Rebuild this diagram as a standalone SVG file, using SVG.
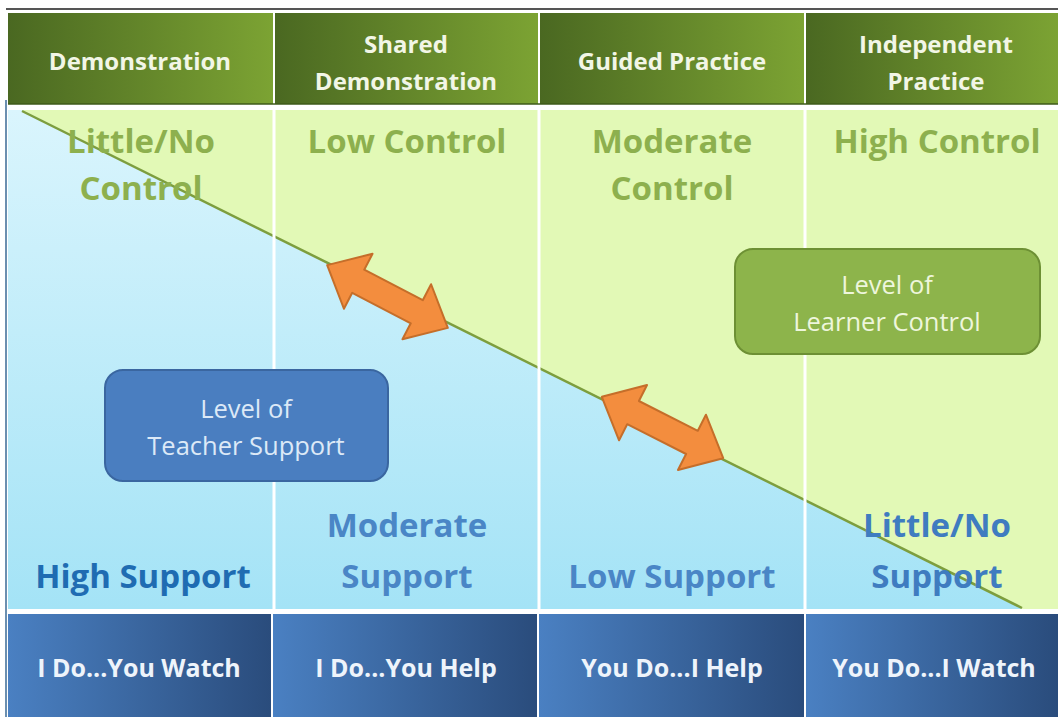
<svg xmlns="http://www.w3.org/2000/svg" width="1058" height="717" viewBox="0 0 1058 717">
<defs>
<linearGradient id="gHead" x1="0" y1="0" x2="1" y2="0">
<stop offset="0" stop-color="#4a6821"/><stop offset="1" stop-color="#7ca333"/>
</linearGradient>
<linearGradient id="gFoot" x1="0" y1="0" x2="1" y2="0">
<stop offset="0" stop-color="#4a80c2"/><stop offset="1" stop-color="#2a4c7c"/>
</linearGradient>
<linearGradient id="gBlue" x1="0" y1="0" x2="0" y2="1">
<stop offset="0" stop-color="#daf5fd"/><stop offset="1" stop-color="#a4e3f6"/>
</linearGradient>
<style>
.hd{font-family:"Open Sans","Liberation Sans",sans-serif;font-weight:bold;font-size:24px;fill:#f2f6e6;text-anchor:middle}
.ft{font-family:"Open Sans","Liberation Sans",sans-serif;font-weight:bold;font-size:25px;fill:#eef4fb;text-anchor:middle}
.gc{font-family:"Open Sans","Liberation Sans",sans-serif;font-weight:bold;font-size:33px;fill:#8db04e;text-anchor:middle}
.bs{font-family:"Open Sans","Liberation Sans",sans-serif;font-weight:bold;font-size:33px;fill:#4a86c6;text-anchor:middle}
.bx{font-family:"Open Sans","Liberation Sans",sans-serif;font-size:25.5px;text-anchor:middle}
.arr{fill:#f38d3e;stroke:#c56e2a;stroke-width:2;stroke-linejoin:round}
</style>
</defs>
<rect width="1058" height="717" fill="#ffffff"/>
<!-- top border line -->
<line x1="6" y1="9" x2="1058" y2="9" stroke="#555" stroke-width="2"/>
<!-- body -->
<g id="body">
<rect x="8" y="110" width="1050" height="499" fill="#e2f9b6"/>
<polygon points="8,110 22,110 1022,609 8,609" fill="url(#gBlue)"/>
<line x1="22" y1="111" x2="1022" y2="608" stroke="#7d9e3e" stroke-width="2.5"/>
<g stroke="#ffffff" stroke-width="3">
<line x1="274" y1="105" x2="274" y2="612"/>
<line x1="539" y1="105" x2="539" y2="612"/>
<line x1="805" y1="105" x2="805" y2="612"/>
</g>
<line x1="8" y1="107" x2="1058" y2="107" stroke="#ffffff" stroke-width="4"/>
<line x1="8" y1="611" x2="1058" y2="611" stroke="#ffffff" stroke-width="4"/>
<line x1="6" y1="100" x2="6" y2="717" stroke="#6b8fb0" stroke-width="2"/>
</g>
<!-- header -->
<g id="header-1"><rect x="8" y="13" width="265" height="91" fill="url(#gHead)"/><text class="hd" x="140" y="70">Demonstration</text></g>
<g id="header-2"><rect x="275" y="13" width="263" height="91" fill="url(#gHead)"/><text class="hd" x="406" y="53">Shared</text><text class="hd" x="406" y="90">Demonstration</text></g>
<g id="header-3"><rect x="540" y="13" width="264" height="91" fill="url(#gHead)"/><text class="hd" x="672" y="70">Guided Practice</text></g>
<g id="header-4"><rect x="806" y="13" width="252" height="91" fill="url(#gHead)"/><text class="hd" x="936" y="53">Independent</text><text class="hd" x="936" y="90">Practice</text></g>
<line x1="8" y1="104" x2="1058" y2="104" stroke="#3e5a1a" stroke-width="1.5"/>
<!-- control labels -->
<g id="control-labels">
<text class="gc" x="141" y="153">Little/No</text><text class="gc" x="141" y="200">Control</text>
<text class="gc" x="407" y="153">Low Control</text>
<text class="gc" x="672" y="153">Moderate</text><text class="gc" x="672" y="200">Control</text>
<text class="gc" x="937" y="153">High Control</text>
</g>
<!-- support labels -->
<g id="support-labels">
<text class="bs" x="143" y="588" style="fill:#1f6cb2">High Support</text>
<text class="bs" x="407" y="537">Moderate</text><text class="bs" x="407" y="588">Support</text>
<text class="bs" x="672" y="588">Low Support</text>
<text class="bs" x="937" y="537" style="fill:#3f7cc0">Little/No</text><text class="bs" x="937" y="588" style="fill:#3f7cc0">Support</text>
</g>
<!-- boxes -->
<g id="teacher-support"><rect x="105" y="370" width="283" height="111" rx="18" fill="#4a7ec0" stroke="#3a66a0" stroke-width="2"/><text class="bx" x="246" y="418" fill="#dce9f7">Level of</text><text class="bx" x="246" y="455" fill="#dce9f7">Teacher Support</text></g>
<g id="learner-control"><rect x="735" y="249" width="305" height="105" rx="18" fill="#8db44b" stroke="#6d9034" stroke-width="2"/><text class="bx" x="887" y="294" fill="#eef6dc">Level of</text><text class="bx" x="887" y="331" fill="#eef6dc">Learner Control</text></g>
<!-- arrows -->
<g id="connectors">
<polygon class="arr" transform="translate(387.5,296.5) rotate(27.5)" points="-68,0 -33,-31 -33,-13 33,-13 33,-31 68,0 33,31 33,13 -33,13 -33,31"/>
<polygon class="arr" transform="translate(662.5,427.5) rotate(26.8)" points="-68,0 -33,-31 -33,-13 33,-13 33,-31 68,0 33,31 33,13 -33,13 -33,31"/>
</g>
<!-- footer -->
<g id="footer-1"><rect x="8" y="614" width="263" height="103" fill="url(#gFoot)"/><text class="ft" x="139" y="677">I Do...You Watch</text></g>
<g id="footer-2"><rect x="273" y="614" width="264" height="103" fill="url(#gFoot)"/><text class="ft" x="406" y="677">I Do...You Help</text></g>
<g id="footer-3"><rect x="539" y="614" width="265" height="103" fill="url(#gFoot)"/><text class="ft" x="672" y="677">You Do...I Help</text></g>
<g id="footer-4"><rect x="806" y="614" width="252" height="103" fill="url(#gFoot)"/><text class="ft" x="934" y="677">You Do...I Watch</text></g>
</svg>
